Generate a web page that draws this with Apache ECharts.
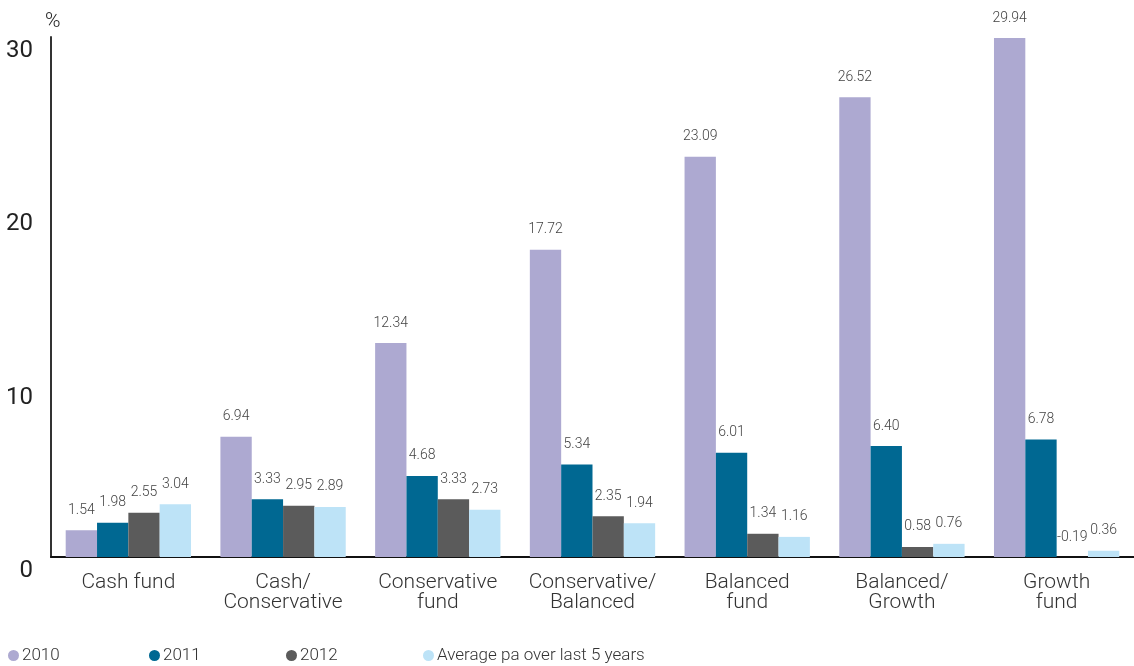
<!DOCTYPE html>
<html>
<head>
<meta charset="utf-8">
<script src="https://cdn.jsdelivr.net/npm/echarts@6/dist/echarts.min.js"></script>
<style>
  html, body { margin: 0; padding: 0; background: #fff; }
  #main { width: 1134px; height: 666px; }
</style>
</head>
<body>
<div id="main"></div>
<script>
var categories = ['Cash fund', 'Cash/\nConservative', 'Conservative\nfund', 'Conservative/\nBalanced', 'Balanced\nfund', 'Balanced/\nGrowth', 'Growth\nfund'];
var seriesNames = ['2010', '2011', '2012', 'Average pa over last 5 years'];
var values2010 = [1.54, 6.94, 12.34, 17.72, 23.09, 26.52, 29.94];
var values2011 = [1.98, 3.33, 4.68, 5.34, 6.01, 6.40, 6.78];
var values2012 = [2.55, 2.95, 3.33, 2.35, 1.34, 0.58, -0.19];
var valuesAvg = [3.04, 2.89, 2.73, 1.94, 1.16, 0.76, 0.36];
var yTicks = [0, 10, 20, 30];

var colors = ['#ada9d1', '#006892', '#5b5b5b', '#bde3f7'];
var font = 'Roboto';

var myChart = echarts.init(document.getElementById('main'));

function makeSeries(name, data, color) {
    return {
        name: name,
        type: 'bar',
        data: data,
        barGap: '0%',
        barCategoryGap: '19%',
        itemStyle: {
            color: function (p) {
                // the single negative bar is drawn in a pale green in the original
                return p.value < 0 ? '#a9d4b4' : color;
            }
        },
        label: {
            show: true,
            position: 'top',
            distance: 13,
            fontFamily: font,
            fontWeight: 300,
            fontSize: 14,
            color: '#444',
            formatter: function (p) { return p.value.toFixed(2); }
        }
    };
}

function makeLegend(i, left) {
    return {
        data: [seriesNames[i]],
        left: left,
        top: 647,
        icon: 'circle',
        itemWidth: 11,
        itemHeight: 11,
        itemGap: 0,
        padding: 0,
        textStyle: { fontFamily: font, fontWeight: 300, fontSize: 17, color: '#333', padding: [0, 0, 0, -2] },
        selectedMode: false
    };
}

var option = {
    animation: false,
    color: colors,
    title: {
        text: '%',
        left: 40,
        top: 6,
        textStyle: { fontFamily: font, fontWeight: 300, fontSize: 21, color: '#222' }
    },
    legend: [makeLegend(0, 8), makeLegend(1, 149), makeLegend(2, 286), makeLegend(3, 423)],
    grid: { left: 51, top: 37, width: 1091, height: 520 },
    xAxis: {
        type: 'category',
        data: categories,
        axisLine: { lineStyle: { color: '#111', width: 2 } },
        axisTick: { show: false },
        axisLabel: {
            interval: 0,
            margin: 16,
            fontFamily: font,
            fontWeight: 300,
            fontSize: 21,
            lineHeight: 20,
            color: '#333'
        }
    },
    yAxis: {
        type: 'value',
        min: yTicks[0],
        max: yTicks[yTicks.length - 1],
        interval: 10,
        axisLine: { show: true, lineStyle: { color: '#333', width: 2 } },
        axisTick: { show: false },
        splitLine: { show: false },
        axisLabel: {
            margin: 18,
            verticalAlign: 'top',
            padding: [2, 0, 0, 0],
            fontFamily: font,
            fontSize: 24,
            color: '#222',
            formatter: function (v) { return yTicks.indexOf(v) >= 0 ? String(v) : ''; }
        }
    },
    series: [
        makeSeries(seriesNames[0], values2010, colors[0]),
        makeSeries(seriesNames[1], values2011, colors[1]),
        makeSeries(seriesNames[2], values2012, colors[2]),
        makeSeries(seriesNames[3], valuesAvg, colors[3])
    ]
};

myChart.setOption(option);
</script>
</body>
</html>
